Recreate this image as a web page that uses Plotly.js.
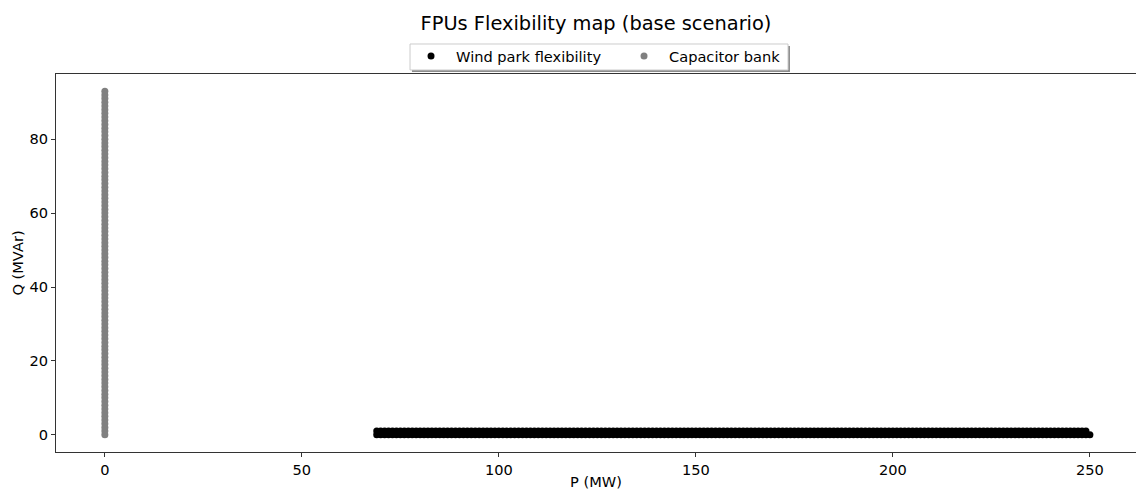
<!DOCTYPE html>
<html>
<head>
<meta charset="utf-8">
<script src="https://cdn.plot.ly/plotly-3.0.1.min.js"></script>
<style>
html,body{margin:0;padding:0;background:#fff;}
#chart{width:1136px;height:490px;}
</style>
</head>
<body>
<div id="chart"></div>
<script>
// Wind park flexibility: P values (MW) on the Q = 0 row and on the Q = 1 row
const windP_row0 = [69,70,71,72,73,74,75,76,77,78,79,80,81,82,83,84,85,86,87,88,89,90,91,92,93,94,95,96,97,98,99,
100,101,102,103,104,105,106,107,108,109,110,111,112,113,114,115,116,117,118,119,120,121,122,123,124,125,126,127,128,129,
130,131,132,133,134,135,136,137,138,139,140,141,142,143,144,145,146,147,148,149,150,151,152,153,154,155,156,157,158,159,
160,161,162,163,164,165,166,167,168,169,170,171,172,173,174,175,176,177,178,179,180,181,182,183,184,185,186,187,188,189,
190,191,192,193,194,195,196,197,198,199,200,201,202,203,204,205,206,207,208,209,210,211,212,213,214,215,216,217,218,219,
220,221,222,223,224,225,226,227,228,229,230,231,232,233,234,235,236,237,238,239,240,241,242,243,244,245,246,247,248,249,250];
const windP_row1 = [69,70,71,72,73,74,75,76,77,78,79,80,81,82,83,84,85,86,87,88,89,90,91,92,93,94,95,96,97,98,99,
100,101,102,103,104,105,106,107,108,109,110,111,112,113,114,115,116,117,118,119,120,121,122,123,124,125,126,127,128,129,
130,131,132,133,134,135,136,137,138,139,140,141,142,143,144,145,146,147,148,149,150,151,152,153,154,155,156,157,158,159,
160,161,162,163,164,165,166,167,168,169,170,171,172,173,174,175,176,177,178,179,180,181,182,183,184,185,186,187,188,189,
190,191,192,193,194,195,196,197,198,199,200,201,202,203,204,205,206,207,208,209,210,211,212,213,214,215,216,217,218,219,
220,221,222,223,224,225,226,227,228,229,230,231,232,233,234,235,236,237,238,239,240,241,242,243,244,245,246,247,248,249];
const windQ_rows = [0, 1];

// Capacitor bank: P = 0, Q from 0 to 93 MVAr
const capQ = [0,1,2,3,4,5,6,7,8,9,10,11,12,13,14,15,16,17,18,19,20,21,22,23,24,25,26,27,28,29,30,31,32,33,34,35,36,37,38,39,
40,41,42,43,44,45,46,47,48,49,50,51,52,53,54,55,56,57,58,59,60,61,62,63,64,65,66,67,68,69,70,71,72,73,74,75,76,77,78,79,
80,81,82,83,84,85,86,87,88,89,90,91,92,93];
const capP = capQ.map(() => 0);

const xTicks = [0, 50, 100, 150, 200, 250];
const yTicks = [0, 20, 40, 60, 80];

const windX = windP_row0.concat(windP_row1);
const windY = windP_row0.map(() => windQ_rows[0]).concat(windP_row1.map(() => windQ_rows[1]));

const font = {family: 'DejaVu Sans, sans-serif', color: '#000'};
const fs = 14.6;

const traces = [
  {x: windX, y: windY, type: 'scatter', mode: 'markers', name: 'Wind park flexibility',
   marker: {color: '#000000', size: 7}},
  {x: capP, y: capQ, type: 'scatter', mode: 'markers', name: 'Capacitor bank',
   marker: {color: '#808080', size: 7}}
];

const layout = {
  width: 1136, height: 490,
  margin: {l: 56, r: 0, t: 74, b: 38},
  paper_bgcolor: '#fff', plot_bgcolor: '#fff',
  font: Object.assign({size: fs}, font),
  title: {text: 'FPUs Flexibility map (base scenario)', font: Object.assign({size: 19.4}, font),
          x: 0.5, xanchor: 'center', y: 0.953, yanchor: 'middle', xref: 'paper'},
  showlegend: true,
  legend: {orientation: 'h', x: 0.3241, xanchor: 'left', y: 1.005, yanchor: 'bottom',
           bgcolor: 'rgba(0,0,0,0)', borderwidth: 0,
           font: Object.assign({size: fs}, font), itemwidth: 40, entrywidth: 158, entrywidthmode: 'pixels'},
  xaxis: {range: [-12.4, 261.7], tickvals: xTicks, ticks: 'outside', ticklen: 4, tickcolor: '#333',
          showgrid: false, zeroline: false, showline: true, linecolor: '#333', linewidth: 1, mirror: true,
          tickfont: Object.assign({size: fs}, font),
          title: {text: 'P (MW)', font: Object.assign({size: fs}, font), standoff: 4}},
  yaxis: {range: [-4.65, 97.65], tickvals: yTicks, ticks: 'outside', ticklen: 4, tickcolor: '#333',
          showgrid: false, zeroline: false, showline: true, linecolor: '#333', linewidth: 1,
          tickfont: Object.assign({size: fs}, font),
          title: {text: 'Q (MVAr)', font: Object.assign({size: fs}, font), standoff: 2}},
  shapes: [
    // legend shadow
    {type: 'rect', xref: 'paper', yref: 'paper', x0: 0.3296, x1: 0.6796, y0: 1.0053, y1: 1.0741,
     fillcolor: '#8c8c8c', line: {width: 0}, layer: 'below'},
    // legend frame
    {type: 'rect', xref: 'paper', yref: 'paper', x0: 0.3278, x1: 0.6778, y0: 1.0106, y1: 1.0794,
     fillcolor: '#ffffff', line: {width: 1, color: '#cccccc'}, layer: 'below'}
  ]
};

Plotly.newPlot('chart', traces, layout, {displayModeBar: false, staticPlot: true});
</script>
</body>
</html>
